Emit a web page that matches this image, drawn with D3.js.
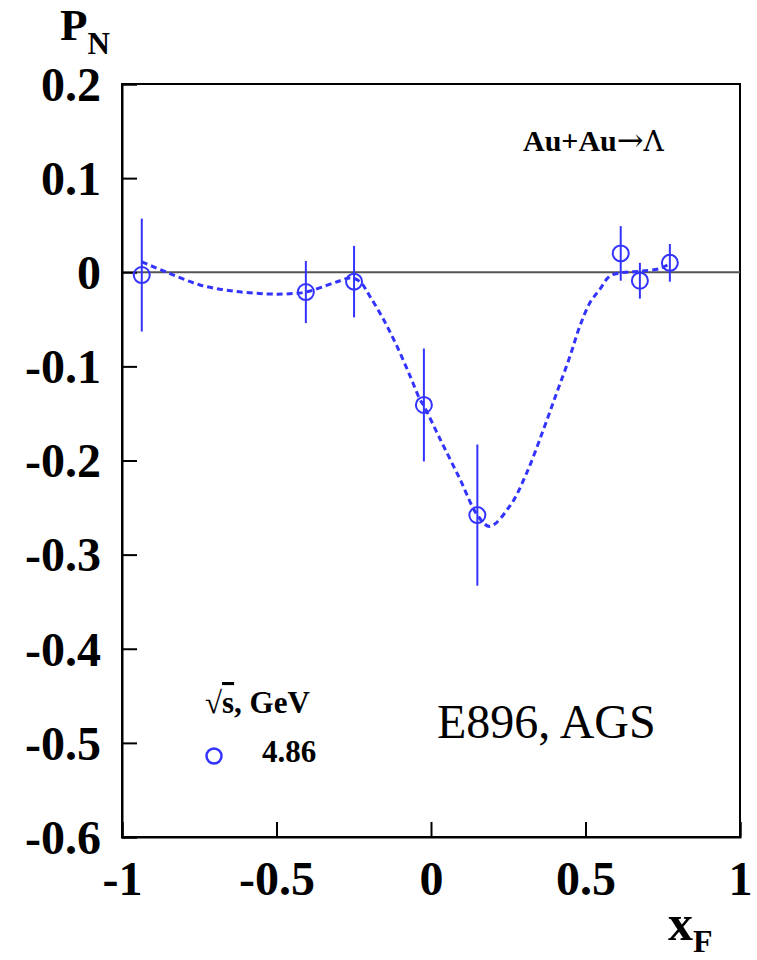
<!DOCTYPE html>
<html><head><meta charset="utf-8">
<script src="https://cdn.jsdelivr.net/npm/d3@7"></script>
<style>body{margin:0;background:#fff}svg{display:block}</style>
</head><body>
<script>
// Data
const xF   = [-0.936, -0.405, -0.249, -0.023, 0.150, 0.614, 0.676, 0.773];
const PN   = [-0.003, -0.021, -0.010, -0.141, -0.258, 0.020, -0.009, 0.010];
const errs = [0.060, 0.033, 0.038, 0.060, 0.075, 0.029, 0.019, 0.020];
const fitX = [-0.936,-0.855,-0.748,-0.640,-0.532,-0.467,-0.405,-0.338,-0.294,-0.260,-0.230,-0.197,-0.154,-0.111,-0.068,-0.036,-0.023,0.029,0.094,0.150,0.190,0.256,0.310,0.364,0.407,0.450,0.482,0.515,0.547,0.579,0.628,0.676,0.741,0.767];
const fitY = [0.011,0.000,-0.0135,-0.020,-0.023,-0.023,-0.021,-0.014,-0.009,-0.006,-0.010,-0.026,-0.050,-0.078,-0.110,-0.135,-0.142,-0.177,-0.220,-0.258,-0.270,-0.248,-0.213,-0.167,-0.128,-0.089,-0.057,-0.032,-0.018,-0.004,0.000,0.001,0.004,0.008];
const xTicks = [-1, -0.5, 0, 0.5, 1];
const xTickLabels = ["-1", "-0.5", "0", "0.5", "1"];
const yTicks = [0.2, 0.1, 0, -0.1, -0.2, -0.3, -0.4, -0.5, -0.6];
const yTickLabels = ["0.2", "0.1", "0", "-0.1", "-0.2", "-0.3", "-0.4", "-0.5", "-0.6"];
const legendTitle = ["√", "s", ", GeV"];
const legendLabel = "4.86";
const reactionLabel = ["Au+Au", "→", "Λ"];
const experimentLabel = "E896, AGS";

const W = 757, H = 960;
const L = 122, R = 740, T = 84, B = 837;
const blue = "#3333ff";
const serif = "'Liberation Serif','Times New Roman',serif";

const svg = d3.select("body").append("svg").attr("width", W).attr("height", H);
const x = d3.scaleLinear().domain([-1, 1]).range([L, R]);
const y = d3.scaleLinear().domain([-0.6, 0.2]).range([B, T]);

// frame
svg.append("rect").attr("x", L).attr("y", T).attr("width", R - L).attr("height", B - T)
  .attr("fill", "none").attr("stroke", "#000").attr("stroke-width", 2);

// zero line
svg.append("line").attr("x1", L).attr("x2", R).attr("y1", y(0)).attr("y2", y(0))
  .attr("stroke", "#555").attr("stroke-width", 2);

// x axis
const xAxis = d3.axisBottom(x).tickValues(xTicks).tickSize(-15)
  .tickFormat((d, i) => xTickLabels[i]);
const gx = svg.append("g").attr("transform", `translate(0,${B})`).call(xAxis);
gx.select(".domain").attr("stroke", "#000").attr("stroke-width", 2);
gx.selectAll(".tick line").attr("stroke", "#000").attr("stroke-width", 2);
gx.selectAll(".tick text").attr("font-family", serif).attr("font-weight", "bold")
  .attr("font-size", 48).attr("fill", "#000").attr("y", 58).attr("dy", null);

// y axis
const yAxis = d3.axisLeft(y).tickValues(yTicks).tickSize(-15)
  .tickFormat((d, i) => yTickLabels[i]);
const gy = svg.append("g").attr("transform", `translate(${L},0)`).call(yAxis);
gy.select(".domain").attr("stroke", "#000").attr("stroke-width", 2);
gy.selectAll(".tick line").attr("stroke", "#000").attr("stroke-width", 2);
gy.selectAll(".tick text").attr("font-family", serif).attr("font-weight", "bold")
  .attr("font-size", 48).attr("fill", "#000").attr("x", -21).attr("dy", "0.34em");

// axis titles
const pn = svg.append("text").attr("x", 60).attr("y", 40).attr("font-family", serif)
  .attr("font-weight", "bold").attr("font-size", 45).attr("fill", "#000");
pn.append("tspan").text("P");
pn.append("tspan").attr("font-size", 31).attr("dy", 14).text("N");

const xf = svg.append("text").attr("x", 668).attr("y", 940).attr("font-family", serif)
  .attr("font-weight", "bold").attr("font-size", 50).attr("fill", "#000");
xf.append("tspan").text("x");
xf.append("tspan").attr("font-size", 32).attr("dy", 12).text("F");

// fit curve
const line = d3.line().x((d, i) => x(d)).y((d, i) => y(fitY[i])).curve(d3.curveCatmullRom.alpha(0.5));
svg.append("path").attr("d", line(fitX)).attr("fill", "none").attr("stroke", blue)
  .attr("stroke-width", 3).attr("stroke-dasharray", "6,4");

// error bars
const pts = xF.map((v, i) => ({x: v, y: PN[i], e: errs[i]}));
svg.selectAll(".err").data(pts).enter().append("line")
  .attr("x1", d => x(d.x)).attr("x2", d => x(d.x))
  .attr("y1", d => y(d.y + d.e)).attr("y2", d => y(d.y - d.e))
  .attr("stroke", blue).attr("stroke-width", 2);
svg.selectAll(".pt").data(pts).enter().append("circle")
  .attr("cx", d => x(d.x)).attr("cy", d => y(d.y)).attr("r", 8)
  .attr("fill", "none").attr("stroke", blue).attr("stroke-width", 2);

// reaction label
const rl = svg.append("text").attr("x", 523).attr("y", 151).attr("font-family", serif)
  .attr("font-weight", "bold").attr("font-size", 30).attr("fill", "#000");
rl.append("tspan").text(reactionLabel[0]);
rl.append("tspan").attr("font-family", "'DejaVu Serif',serif").attr("font-weight", "normal").attr("font-size", 32).text(reactionLabel[1]);
rl.append("tspan").attr("font-family", "'DejaVu Serif',serif").attr("font-weight", "normal").attr("font-size", 28).text(reactionLabel[2]);

// legend
const lt = svg.append("text").attr("x", 205).attr("y", 713).attr("font-family", serif)
  .attr("font-weight", "bold").attr("font-size", 31).attr("fill", "#000");
lt.append("tspan").attr("font-weight", "normal").text(legendTitle[0]);
lt.append("tspan").attr("text-decoration", "overline").text(legendTitle[1]);
lt.append("tspan").text(legendTitle[2]);
svg.append("circle").attr("cx", 214).attr("cy", 756).attr("r", 7.5)
  .attr("fill", "none").attr("stroke", blue).attr("stroke-width", 2.5);
svg.append("text").attr("x", 262).attr("y", 762).attr("font-family", serif)
  .attr("font-weight", "bold").attr("font-size", 31).attr("fill", "#000").text(legendLabel);

// experiment label
svg.append("text").attr("x", 437).attr("y", 738).attr("font-family", serif)
  .attr("font-size", 48).attr("fill", "#000").text(experimentLabel);
</script>
</body></html>
